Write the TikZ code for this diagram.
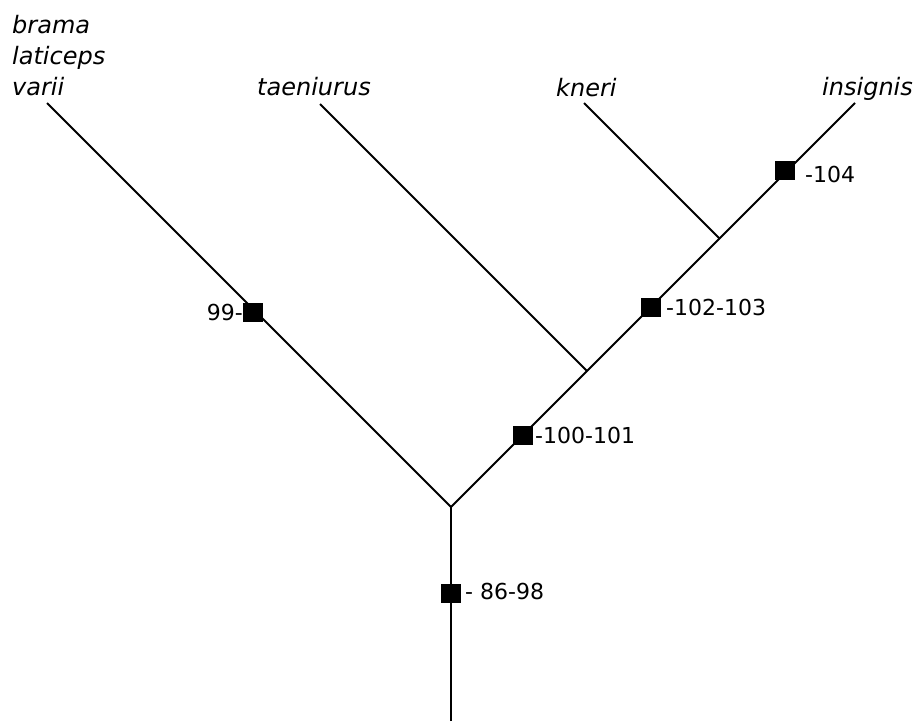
\documentclass[tikz,border=0pt]{standalone}
\usepackage{fontspec}
\setmainfont{DejaVu Sans}
\begin{document}
\begin{tikzpicture}[x=1pt,y=-1pt,
  branch/.style={line width=1.8pt},
  sqmark/.style={fill=black,draw=none,minimum width=20pt,minimum height=19pt,inner sep=0pt},
  taxon/.style={anchor=base west,inner sep=0pt,font=\fontsize{24}{31}\selectfont\itshape},
  charlab/.style={inner sep=0pt,font=\fontsize{22}{25}\selectfont}]
\useasboundingbox (0,0) rectangle (916,721);
% branch points
\coordinate (root) at (451,721);
\coordinate (fork) at (451,507);
\coordinate (jt) at (587,371);
\coordinate (jk) at (719.5,238.5);
\coordinate (tipL) at (47,103);
\coordinate (tipT) at (320,104);
\coordinate (tipK) at (584,103);
\coordinate (tipI) at (855,103);
% branches
\draw[branch] (root) -- (fork);
\draw[branch] (fork) -- (tipL);
\draw[branch] (fork) -- (jt) -- (jk) -- (tipI);
\draw[branch] (jt) -- (tipT);
\draw[branch] (jk) -- (tipK);
% markers
\node[sqmark] (m1) at (451,593) {};
\node[sqmark] (m2) at (523,435) {};
\node[sqmark] (m3) at (651,307) {};
\node[sqmark] (m4) at (785,170) {};
\node[sqmark] (m5) at (253,312) {};
% marker labels
\node[charlab,anchor=base west] (l1) at (465,599) {- 86-98};
\node[charlab,anchor=base west] (l2) at (535,443) {-100-101};
\node[charlab,anchor=base west] (l3) at (666,315) {-102-103};
\node[charlab,anchor=base west] (l4) at (805,182) {-104};
\node[charlab,anchor=base east] (l5) at (243,320) {99-};
% taxa
\node[taxon] (t1) at (12,33) {brama};
\node[taxon] (t2) at (12,64) {laticeps};
\node[taxon] (t3) at (12,95) {varii};
\node[taxon] (t4) at (257,95) {taeniurus};
\node[taxon] (t5) at (556,96) {kneri};
\node[taxon] (t6) at (822,95) {insignis};
\end{tikzpicture}
\end{document}
